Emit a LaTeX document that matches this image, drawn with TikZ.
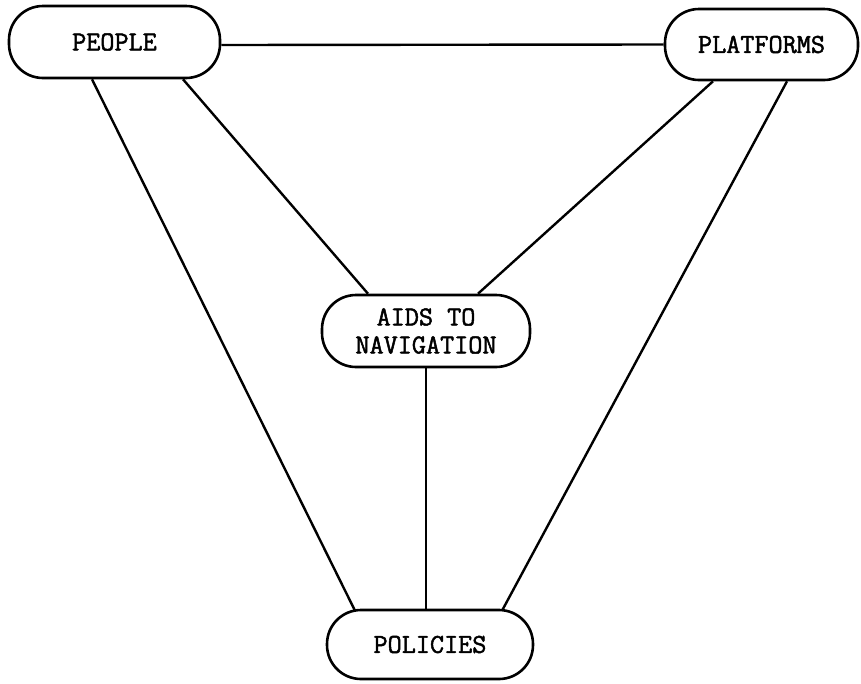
\documentclass[tikz,border=0pt]{standalone}
\usepackage{fontspec}
\newfontfamily\twfont[FakeBold=1.8]{Latin Modern Mono}
\begin{document}
\begin{tikzpicture}[x=1pt,y=-1pt,
  box/.style={draw, line width=2.6pt, rounded corners=34pt, inner sep=0pt,
    align=center, font=\twfont\fontsize{27.4}{28}\selectfont},
  link/.style={line width=2.4pt}]
\useasboundingbox (0,0) rectangle (861,683);
\node[box, minimum width=211pt, minimum height=72pt] (people) at (114.5,42) {PEOPLE};
\node[box, minimum width=193pt, minimum height=71pt] (platforms) at (761.5,44.5) {PLATFORMS};
\node[box, minimum width=208pt, minimum height=72pt] (aids) at (426,331) {AIDS TO\\NAVIGATION};
\node[box, minimum width=206pt, minimum height=69pt] (policies) at (430,644.5) {POLICIES};
\draw[link] ([yshift=-3pt]people.east) -- (platforms.west);
\draw[link] ([xshift=-22.5pt]people.south) -- ([xshift=-75pt,yshift=-2pt]policies.north);
\draw[link] ([xshift=68.5pt]people.south) -- ([xshift=-58pt]aids.north);
\draw[link] ([xshift=-48.5pt]platforms.south) -- ([xshift=52pt]aids.north);
\draw[link] ([xshift=25.5pt]platforms.south) -- ([xshift=72pt,yshift=-2pt]policies.north);
\draw[link] (aids.south) -- (aids.south |- policies.north);
\end{tikzpicture}
\end{document}
